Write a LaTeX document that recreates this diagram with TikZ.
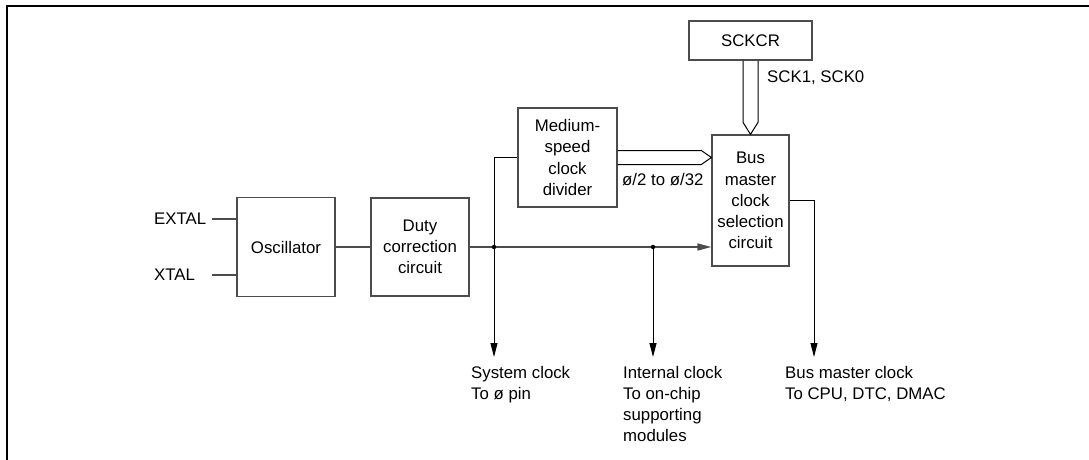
\documentclass[tikz,border=0pt]{standalone}
\usepackage{fontspec}
\setmainfont{Liberation Sans}
\usetikzlibrary{arrows.meta,calc}
\begin{document}
\begin{tikzpicture}[x=1pt,y=-1pt,
  every node/.style={font=\fontsize{16.8}{21.2}\selectfont},
  blk/.style={draw=black!70,line width=1.3pt,inner sep=0pt,align=center},
  wire/.style={draw=black!70,line width=1.6pt},
  thin/.style={draw=black,line width=1pt},
  arr/.style={thin,-{Triangle[length=14pt,width=7pt]}},
  lbl/.style={inner sep=0pt,align=left},
  dot/.style={circle,fill=black,inner sep=0pt,minimum size=4.5pt}]
\useasboundingbox (0,0) rectangle (1089,460);
% frame
\draw[line width=2pt] (7,460) -- (7,6) -- (1089,6);
% blocks
\node[blk,minimum width=123pt,minimum height=39pt] (sckcr) at (750.5,40.5) {SCKCR};
\node[blk,minimum width=99pt,minimum height=99pt] (div) at (567.5,157.5) {Medium-\\speed\\clock\\divider};
\node[blk,minimum width=77pt,minimum height=131pt] (bmc) at (750.5,200.5) {Bus\\master\\clock\\selection\\circuit};
\node[blk,minimum width=98pt,minimum height=99pt] (osc) at (286,247) {Oscillator};
\node[blk,minimum width=98pt,minimum height=98pt] (duty) at (420,247) {Duty\\correction\\circuit};
% pin labels
\node[lbl,anchor=west] (extal) at (154,219) {EXTAL};
\node[lbl,anchor=west] (xtal) at (154,275) {XTAL};
\coordinate (extalend) at (212,219);
\coordinate (xtalend) at (212,275);
\draw[wire,line width=1.2pt] (extalend) -- (extalend -| osc.west);
\draw[wire,line width=1.2pt] (xtalend) -- (xtalend -| osc.west);
% main clock line
\draw[wire] (osc.east) -- (duty.west);
\coordinate (j1) at (494,247);
\coordinate (j2) at (653,247);
\draw[wire,-{Triangle[length=14pt,width=7pt]}] (duty.east) -- (duty.east -| bmc.west);
% branches
\coordinate (sysend) at (494,357);
\coordinate (intend) at (653,357);
\coordinate (busend) at (814,357);
\draw[arr] (div.west) -| (sysend);
\draw[arr] (j2) -- (intend);
\draw[arr] (bmc.east) -| (busend);
\node[dot] at (j1) {};
\node[dot] at (j2) {};
% horizontal bus divider -> bmc
\draw[thin,line join=miter] ($(div.east)+(0,-7)$) -- ($(bmc.west |- div.east)+(-10,-7)$)
  -- (bmc.west |- div.east) -- ($(bmc.west |- div.east)+(-10,7)$) -- ($(div.east)+(0,7)$);
% vertical bus sckcr -> bmc
\draw[thin,line join=miter] ($(sckcr.south)+(-7.5,0)$) -- ($(bmc.north)+(-7.5,-12)$)
  -- (bmc.north) -- ($(bmc.north)+(7.5,-12)$) -- ($(sckcr.south)+(7.5,0)$);
% bus labels
\node[lbl,anchor=west] (scklbl) at (767,78) {SCK1, SCK0};
\node[lbl,anchor=west] (divlbl) at (622,180) {ø/2 to ø/32};
% output labels
\node[lbl,anchor=north west] (syslbl) at (471,366) {System clock\\To ø pin};
\node[lbl,anchor=north west] (intlbl) at (623,366) {Internal clock\\To on-chip\\supporting\\modules};
\node[lbl,anchor=north west] (buslbl) at (785,366) {Bus master clock\\To CPU, DTC, DMAC};
\end{tikzpicture}
\end{document}
